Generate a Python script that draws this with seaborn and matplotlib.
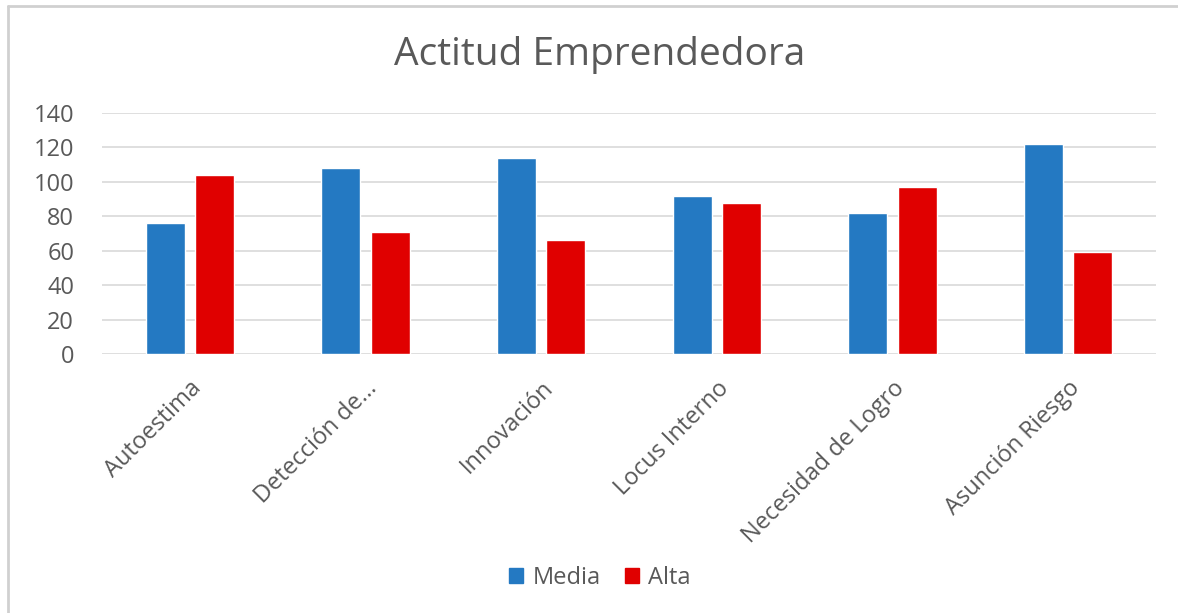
import pandas as pd
import matplotlib
matplotlib.use('Agg')
import matplotlib.pyplot as plt
import matplotlib.patches as mpatches
import matplotlib.lines as mlines
import seaborn as sns

categories = ['Autoestima', 'Detección de...', 'Innovación', 'Locus Interno',
              'Necesidad de Logro', 'Asunción Riesgo']
media = [76, 108, 114, 92, 82, 122]
alta = [104, 71, 66, 88, 97, 59]
series_names = ['Media', 'Alta']

df = pd.DataFrame({
    'Categoria': categories * 2,
    'Valor': media + alta,
    'Nivel': [series_names[0]] * len(categories) + [series_names[1]] * len(categories),
})

sns.set_style('white')
plt.rcParams['font.family'] = ['Open Sans', 'DejaVu Sans']

custom_palette = {'Media': '#2479C2', 'Alta': '#E00000'}
grey = '#595959'

fig = plt.figure(figsize=(11.78, 6.13), dpi=100)
ax = fig.add_axes([102 / 1178, 1 - 354 / 613, (1156 - 102) / 1178, (354 - 113) / 613])

sns.barplot(data=df, x='Categoria', y='Valor', hue='Nivel', ax=ax,
            palette=custom_palette, width=0.56, gap=0.21, legend=False,
            saturation=1)

ax.set_ylim(0, 140)
ax.set_yticks(range(0, 141, 20))
ax.set_xlim(-0.5, len(categories) - 0.5)
ax.grid(axis='y', color='#D9D9D9', linewidth=1.2)
ax.set_axisbelow(True)
for s in ax.spines.values():
    s.set_visible(False)

ax.set_xlabel('')
ax.set_ylabel('')
ax.tick_params(axis='y', colors=grey, labelsize=17, length=0, pad=20)
ax.tick_params(axis='x', colors=grey, labelsize=17, length=0, pad=16)
plt.setp(ax.get_xticklabels(), rotation=45, ha='right', rotation_mode='anchor')

fig.text(600 / 1178, 1 - 55 / 613, 'Actitud Emprendedora', ha='center', va='center',
         fontsize=28, color=grey)

handles = [mpatches.Patch(color=custom_palette[n], label=n) for n in series_names]
leg = fig.legend(handles=handles, loc='center', bbox_to_anchor=(600 / 1178, 1 - 578 / 613),
                 ncol=2, frameon=False, fontsize=17, handlelength=0.6, handleheight=0.6,
                 handletextpad=0.4, columnspacing=1.0)
for t in leg.get_texts():
    t.set_color(grey)

# light frame (left and top edges visible)
fig.add_artist(mlines.Line2D([8 / 1178, 8 / 1178], [0, 1 - 6 / 613], transform=fig.transFigure,
                             color='#D0D0D0', linewidth=2))
fig.add_artist(mlines.Line2D([8 / 1178, 1], [1 - 6 / 613, 1 - 6 / 613], transform=fig.transFigure,
                             color='#D0D0D0', linewidth=2))

plt.savefig('out.png', dpi=100)
plt.close()
